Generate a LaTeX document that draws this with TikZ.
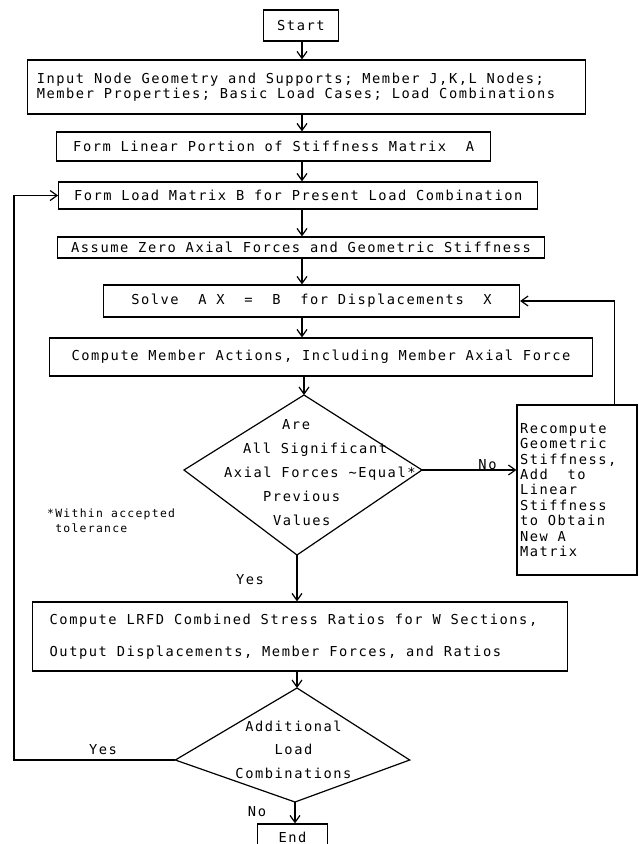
\documentclass[tikz,border=0pt]{standalone}
\usepackage{fontspec}
\newfontfamily\mainmono[LetterSpace=11.3]{DejaVu Sans Mono}
\newcommand\mfont[2]{\mainmono\fontsize{#1}{#2}\selectfont\spaceskip=0.7185\dimexpr #1pt\relax\xspaceskip=\spaceskip}
\newcommand\fixsp{\spaceskip=9.85pt\relax\xspaceskip=9.85pt\relax}
\usetikzlibrary{arrows.meta}
\begin{document}
\begin{tikzpicture}[x=1pt,y=-1pt,
  txt/.style={font=\mfont{13.7}{15}, inner sep=0pt},
  box/.style={txt, draw, line width=1.2pt},
  arr/.style={line width=1.2pt, -{Straight Barb[length=7pt,width=10pt,line width=1.2pt]}},
  plain/.style={line width=1.2pt, line join=miter}]
\useasboundingbox (0,0) rectangle (639,844);
% boxes
\node[box, minimum width=75pt, minimum height=31pt] (start) at (300.9,25.5) {Start};
\node[box, minimum width=558pt, minimum height=54pt, text width=540pt, inner xsep=9pt, align=left] (input) at (306.8,87)
  {\fixsp Input Node Geometry and Supports; Member J,K,L Nodes;\\Member Properties; Basic Load Cases; Load Combinations};
\node[box, minimum width=434pt, minimum height=29pt] (formlin) at (273.7,146.5) {Form Linear Portion of Stiffness Matrix\ \ A};
\node[box, minimum width=479pt, minimum height=27pt] (formload) at (298.2,195.5) {Form Load Matrix B for Present Load Combination};
\node[box, minimum width=487.5pt, minimum height=21pt] (assume) at (301,247.5) {Assume Zero Axial Forces and Geometric Stiffness};
\node[box, minimum width=416pt, minimum height=32pt] (solve) at (311.5,301) {Solve\ \ A X\ \ =\ \ B\ \ for Displacements\ \ X};
\node[box, minimum width=543.6pt, minimum height=38pt] (member) at (321,357) {Compute Member Actions, Including Member Axial Force};
\node[box, font=\mfont{13.7}{15.4}, minimum width=120pt, minimum height=170pt, text width=114pt, inner xsep=3pt, align=left] (recomp) at (577,490)
  {\fixsp Recompute\\Geometric\\Stiffness,\\Add\ \ to\\Linear\\Stiffness\\to Obtain\\New A\\Matrix};
\node[box, font=\mfont{13.7}{32}, minimum width=534.6pt, minimum height=69pt, text width=500.6pt, inner xsep=17pt, align=left] (lrfd) at (300,636.5)
  {\fixsp Compute LRFD Combined Stress Ratios for W Sections,\\Output Displacements, Member Forces, and Ratios};
\node[box, minimum width=70.4pt, minimum height=26pt] (end) at (292.5,837) {End};
% decision 1
\coordinate (d1t) at (304,395);
\coordinate (d1r) at (422,470);
\coordinate (d1b) at (297,555);
\coordinate (d1l) at (184,470);
\draw[plain] (d1t) -- (d1r) -- (d1b) -- (d1l) -- cycle;
\node[txt, font=\mfont{13.7}{24}, anchor=west, align=left] (d1text) at (224,473)
  {\fixsp\hspace*{58pt}Are\\\hspace*{19pt}All Significant\\Axial Forces \textasciitilde Equal*\\\hspace*{39pt}Previous\\\hspace*{49pt}Values};
% decision 2
\coordinate (d2t) at (297,688);
\coordinate (d2r) at (409.7,760);
\coordinate (d2b) at (295,802);
\coordinate (d2l) at (175.3,760);
\draw[plain] (d2t) -- (d2r) -- (d2b) -- (d2l) -- cycle;
\node[txt, font=\mfont{13.7}{23.5}, align=center] (d2text) at (293.5,749.5)
  {Additional\\Load\\Combinations};
% footnote and labels
\node[txt, font=\mfont{11.4}{15}, anchor=west, align=left] (note) at (47,520.5)
  {\spaceskip=8.15pt\relax *Within accepted\\\hspace*{8.1pt}tolerance};
\node[txt] (nolab1) at (487.5,465) {No};
\node[txt] (yeslab1) at (250,580) {Yes};
\node[txt] (yeslab2) at (103,750) {Yes};
\node[txt] (nolab2) at (257,812) {No};
% connectors
\coordinate (spine) at (302,0);
\coordinate (ll) at (14,0);
\coordinate (rl) at (614.5,0);
\draw[arr] (start.south -| spine) -- (input.north -| spine);
\draw[arr] (input.south -| spine) -- (formlin.north -| spine);
\draw[arr] (formlin.south -| spine) -- (formload.north -| spine);
\draw[arr] (formload.south -| spine) -- (assume.north -| spine);
\draw[arr] (assume.south -| spine) -- (solve.north -| spine);
\draw[arr] (solve.south -| spine) -- (member.north -| spine);
\draw[arr] (member.south -| d1t) -- (d1t);
\draw[arr] (d1r) -- (recomp.west |- d1r);
\draw[arr] (recomp.north -| rl) |- (solve.east);
\draw[arr] (d1b) -- (lrfd.north -| d1b);
\draw[arr] (lrfd.south -| d2t) -- (d2t);
\draw[arr] (d2b) -- (end.north -| d2b);
\draw[arr] (d2l) -- (d2l -| ll) -- (ll |- formload.west) -- (formload.west);
\end{tikzpicture}
\end{document}
